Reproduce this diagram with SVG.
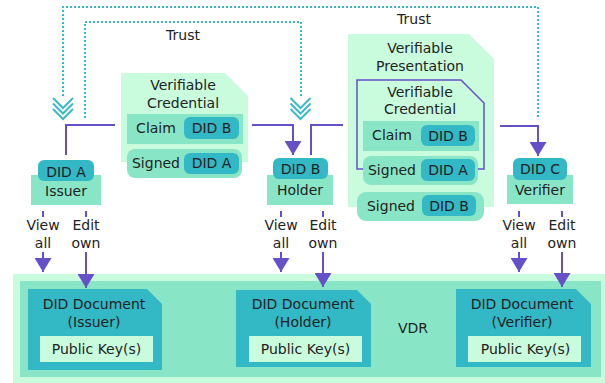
<svg xmlns="http://www.w3.org/2000/svg" width="605" height="383" viewBox="0 0 605 383">
<style>
text{font-family:"DejaVu Sans",Verdana,sans-serif;font-size:14px;fill:#222;text-anchor:middle}
.lt{fill:#c8fcdc}
.md{fill:#88e6c6}
.tl{fill:#33b8c5}
.con{fill:none;stroke:#6650c8;stroke-width:2}
.trust{fill:none;stroke:#3cb9c8;stroke-width:2;stroke-dasharray:2 2}
.chev{fill:none;stroke:#3cb9c8;stroke-width:2}
</style>
<defs>
<marker id="ah" markerUnits="userSpaceOnUse" markerWidth="14" markerHeight="17" viewBox="0 0 14 17" refX="14" refY="8.5" orient="auto">
<path d="M0,0 L14,8.5 L0,17 Z" fill="#6650c8"/>
</marker>
<g id="chev">
<polyline points="-10,0 0,10 10,0"/>
<polyline points="-10,5.5 0,15.5 10,5.5"/>
<polyline points="-10,11 0,21 10,11"/>
</g>
</defs>

<g id="vdr">
<rect x="13" y="274" width="592" height="109" class="lt"/>
<rect x="20" y="281" width="581" height="96" class="md"/>
<text x="413" y="333">VDR</text>
</g>

<g id="doc-issuer">
<path d="M28,289 H147 L162,304 V370 H28 Z" class="tl"/>
<text x="94" y="309">DID Document</text>
<text x="94" y="327">(Issuer)</text>
<rect x="40" y="336" width="113" height="26" class="lt"/>
<text x="96.5" y="354">Public Key(s)</text>
</g>

<g id="doc-holder">
<path d="M236,290 H357 L371,304 V367 H236 Z" class="tl"/>
<text x="303" y="309">DID Document</text>
<text x="303" y="327">(Holder)</text>
<rect x="249" y="336" width="113" height="26" class="lt"/>
<text x="305.5" y="354">Public Key(s)</text>
</g>

<g id="doc-verifier">
<path d="M456,289 H576 L591,304 V367 H456 Z" class="tl"/>
<text x="522" y="309">DID Document</text>
<text x="522" y="327">(Verifier)</text>
<rect x="468" y="336" width="113" height="26" class="lt"/>
<text x="525.5" y="354">Public Key(s)</text>
</g>

<g id="vc">
<path d="M121,73 H225 L248,96 V162 H121 Z" class="lt"/>
<text x="183" y="90">Verifiable</text>
<text x="183" y="108">Credential</text>
<rect x="127" y="114" width="116" height="30" class="md"/>
<text x="156" y="133">Claim</text>
<rect x="184" y="117" width="55" height="22" rx="6" class="tl"/>
<text x="211.5" y="133">DID B</text>
<rect x="127" y="149" width="115" height="29" rx="8" class="md"/>
<text x="156" y="168">Signed</text>
<rect x="184" y="153" width="55" height="21" rx="6" class="tl"/>
<text x="211.5" y="168">DID A</text>
</g>

<g id="vp">
<path d="M348,34 H469 L494,59 V207 H348 Z" class="lt"/>
<text x="420" y="53">Verifiable</text>
<text x="420" y="71">Presentation</text>
<path d="M357,80 H461 L484,103 V169 H357 Z" fill="none" stroke="#6650c8" stroke-width="1.5"/>
<text x="420" y="97">Verifiable</text>
<text x="420" y="114">Credential</text>
<rect x="363" y="121" width="116" height="30" class="md"/>
<text x="392" y="140">Claim</text>
<rect x="421" y="125" width="54" height="21" rx="6" class="tl"/>
<text x="448" y="141">DID B</text>
<rect x="363" y="156" width="115" height="29" rx="8" class="md"/>
<text x="392" y="175">Signed</text>
<rect x="421" y="159" width="54" height="22" rx="6" class="tl"/>
<text x="448" y="175">DID A</text>
<rect x="357" y="192" width="127" height="29" rx="9" class="md"/>
<text x="391" y="211">Signed</text>
<rect x="422" y="195" width="54" height="21" rx="6" class="tl"/>
<text x="449" y="211">DID B</text>
</g>

<g id="issuer">
<rect x="31" y="175" width="70" height="30" class="md"/>
<rect x="38" y="160" width="56" height="21" rx="6" class="tl"/>
<text x="66" y="177">DID A</text>
<text x="66" y="196">Issuer</text>
</g>

<g id="holder">
<rect x="267" y="175" width="66" height="30" class="md"/>
<rect x="273" y="158" width="55" height="21" rx="6" class="tl"/>
<text x="300.5" y="174">DID B</text>
<text x="300" y="195">Holder</text>
</g>

<g id="verifier">
<rect x="507" y="175" width="66" height="29" class="md"/>
<rect x="513" y="158" width="54" height="22" rx="6" class="tl"/>
<text x="540" y="174">DID C</text>
<text x="540" y="195">Verifier</text>
</g>

<g id="connectors">
<path class="trust" d="M538,117 V7 H63 V96"/>
<path class="trust" d="M85,118 V22 H301 V96"/>
<use href="#chev" class="chev" transform="translate(63,98)"/>
<use href="#chev" class="chev" transform="translate(300.5,98)"/>
<text x="183" y="40">Trust</text>
<text x="414" y="24">Trust</text>

<path class="con" d="M66,155 V125 H115"/>
<path class="con" d="M252,125 H293 V155" marker-end="url(#ah)"/>
<path class="con" d="M311,155 V125 H343"/>
<path class="con" d="M500,126 H538 V156" marker-end="url(#ah)"/>

<path class="con" d="M43,211 V217 M86,211 V217 M281,211 V217 M323,211 V217 M519,211 V217 M562,211 V217"/>
<path class="con" d="M43,252 V272" marker-end="url(#ah)"/>
<path class="con" d="M86,252 V288" marker-end="url(#ah)"/>
<path class="con" d="M281,252 V272" marker-end="url(#ah)"/>
<path class="con" d="M323,252 V287" marker-end="url(#ah)"/>
<path class="con" d="M519,252 V272" marker-end="url(#ah)"/>
<path class="con" d="M562,252 V287" marker-end="url(#ah)"/>

<text x="43" y="230">View</text>
<text x="43" y="248">all</text>
<text x="86" y="230">Edit</text>
<text x="86" y="248">own</text>
<text x="281" y="230">View</text>
<text x="281" y="248">all</text>
<text x="323" y="230">Edit</text>
<text x="323" y="248">own</text>
<text x="519" y="230">View</text>
<text x="519" y="248">all</text>
<text x="562" y="230">Edit</text>
<text x="562" y="248">own</text>
</g>
</svg>
